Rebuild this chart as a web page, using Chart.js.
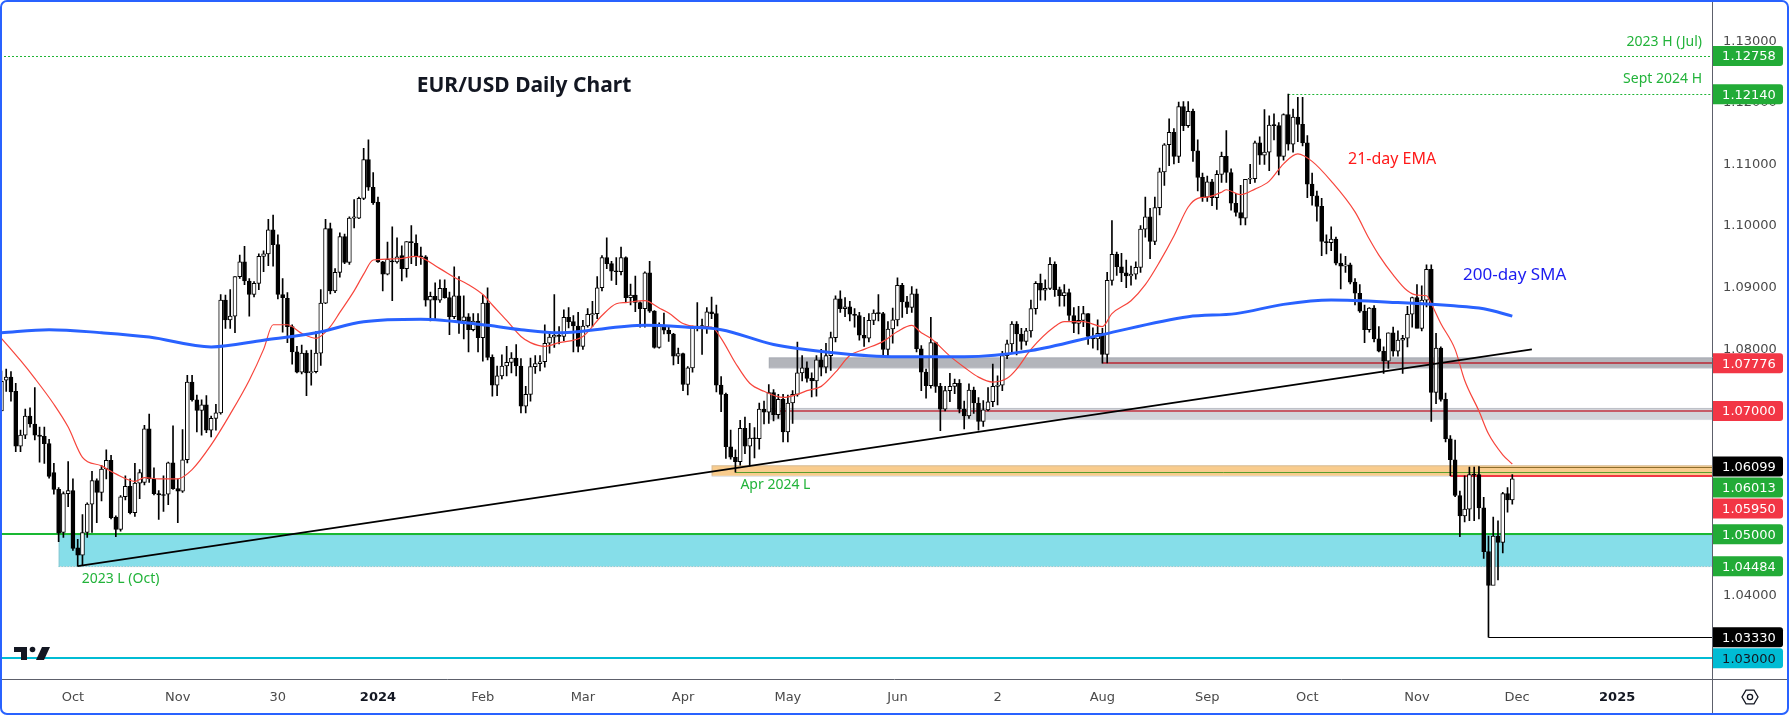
<!DOCTYPE html>
<html lang="en">
<head>
<meta charset="UTF-8">
<title>EUR/USD Daily Chart</title>
<script src="https://cdn.jsdelivr.net/npm/chart.js"></script>
<style>
  html, body { margin: 0; padding: 0; background: #fff; overflow: hidden; }
  canvas { display: block; }
</style>
</head>
<body>
<canvas id="myChart" width="1789" height="715"></canvas>
<script>
// daily EUR/USD candles, bar 0 = 11 Sep 2023 ... bar 317 = 29 Nov 2024 (25 Dec / 1 Jan not traded)
const opens = [
  1.0700,1.0750,1.0755,1.0732,1.0643,1.0661,1.0692,1.0679,1.0661,1.0659,
  1.0647,1.0600,1.0573,1.0503,1.0566,1.0571,1.0478,1.0466,1.0503,1.0549,
  1.0587,1.0568,1.0606,1.0620,1.0528,1.0508,1.0561,1.0578,1.0535,1.0583,
  1.0584,1.0671,1.0590,1.0566,1.0564,1.0565,1.0616,1.0574,1.0570,1.0621,
  1.0747,1.0718,1.0701,1.0710,1.0669,1.0688,1.0697,1.0880,1.0848,1.0854,
  1.0918,1.0942,1.0911,1.0889,1.0907,1.0951,1.0955,1.0994,1.0970,1.0889,
  1.0883,1.0837,1.0796,1.0763,1.0794,1.0762,1.0764,1.0794,1.0875,1.0996,
  1.0895,1.0925,1.0983,1.0941,1.1013,1.1013,1.1045,1.1108,1.1063,1.1039,
  1.0942,1.0922,1.0943,1.0942,1.0952,1.0931,1.0975,1.0972,1.0951,1.0950,
  1.0880,1.0886,1.0880,1.0899,1.0884,1.0853,1.0887,1.0846,1.0853,1.0832,
  1.0846,1.0819,1.0875,1.0787,1.0742,1.0757,1.0773,1.0779,1.0786,1.0773,
  1.0708,1.0727,1.0772,1.0777,1.0780,1.0810,1.0820,1.0823,1.0821,1.0852,
  1.0845,1.0838,1.0805,1.0838,1.0856,1.0858,1.0900,1.0949,1.0939,1.0927,
  1.0926,1.0949,1.0884,1.0888,1.0876,1.0866,1.0924,1.0862,1.0803,1.0839,
  1.0831,1.0825,1.0789,1.0793,1.0743,1.0770,1.0836,1.0838,1.0837,1.0861,
  1.0858,1.0742,1.0727,1.0642,1.0625,1.0618,1.0672,1.0643,1.0656,1.0655,
  1.0703,1.0698,1.0730,1.0694,1.0719,1.0666,1.0713,1.0727,1.0762,1.0770,
  1.0753,1.0749,1.0783,1.0771,1.0790,1.0819,1.0882,1.0866,1.0869,1.0857,
  1.0855,1.0823,1.0818,1.0847,1.0859,1.0858,1.0800,1.0833,1.0848,1.0904,
  1.0877,1.0868,1.0890,1.0801,1.0763,1.0741,1.0811,1.0740,1.0703,1.0733,
  1.0740,1.0745,1.0703,1.0692,1.0734,1.0713,1.0683,1.0702,1.0715,1.0740,
  1.0742,1.0790,1.0809,1.0841,1.0825,1.0813,1.0830,1.0866,1.0907,1.0896,
  1.0899,1.0938,1.0897,1.0887,1.0892,1.0855,1.0842,1.0847,1.0858,1.0821,
  1.0817,1.0826,1.0792,1.0912,1.0954,1.0934,1.0924,1.0919,1.0922,1.0933,
  1.0995,1.1015,1.0975,1.1030,1.1088,1.1132,1.1152,1.1113,1.1194,1.1163,
  1.1186,1.1122,1.1079,1.1047,1.1072,1.1046,1.1084,1.1113,1.1087,1.1037,
  1.1022,1.1013,1.1076,1.1077,1.1135,1.1115,1.1120,1.1164,1.1163,1.1113,
  1.1181,1.1133,1.1177,1.1165,1.1135,1.1068,1.1049,1.1032,1.0975,1.0973,
  1.0979,1.0940,1.0935,1.0937,1.0909,1.0891,1.0862,1.0832,1.0867,1.0817,
  1.0797,1.0781,1.0827,1.0797,1.0815,1.0818,1.0857,1.0884,1.0834,1.0880,
  1.0930,1.0730,1.0802,1.0719,1.0655,1.0621,1.0563,1.0530,1.0541,1.0597,
  1.0597,1.0543,1.0472,1.0417,1.0497,1.0487,1.0566,1.0556
];
const highs = [
  1.0765,1.0768,1.0764,1.0745,1.0669,1.0703,1.0705,1.0738,1.0674,1.0674,
  1.0654,1.0615,1.0576,1.0569,1.0618,1.0590,1.0492,1.0532,1.0551,1.0602,
  1.0590,1.0612,1.0637,1.0628,1.0530,1.0563,1.0595,1.0590,1.0615,1.0605,
  1.0677,1.0695,1.0608,1.0571,1.0595,1.0617,1.0676,1.0590,1.0670,1.0758,
  1.0758,1.0726,1.0718,1.0725,1.0692,1.0711,1.0889,1.0888,1.0897,1.0918,
  1.0953,1.0967,1.0915,1.0910,1.0955,1.0960,1.1011,1.1018,1.0986,1.0915,
  1.0892,1.0840,1.0805,1.0807,1.0798,1.0799,1.0829,1.0897,1.1011,1.1005,
  1.0931,1.0989,1.0987,1.1015,1.1043,1.1047,1.1126,1.1140,1.1087,1.1047,
  1.0943,1.0974,1.0999,1.0981,1.0968,1.0975,1.1001,1.0986,1.0966,1.0952,
  1.0893,1.0908,1.0913,1.0913,1.0893,1.0934,1.0918,1.0887,1.0858,1.0858,
  1.0858,1.0888,1.0900,1.0791,1.0773,1.0791,1.0805,1.0795,1.0808,1.0785,
  1.0740,1.0786,1.0790,1.0790,1.0840,1.0828,1.0889,1.0837,1.0864,1.0868,
  1.0855,1.0860,1.0847,1.0866,1.0878,1.0918,1.0952,1.0981,1.0943,1.0949,
  1.0966,1.0950,1.0906,1.0919,1.0877,1.0926,1.0943,1.0863,1.0843,1.0859,
  1.0838,1.0826,1.0802,1.0794,1.0772,1.0838,1.0876,1.0849,1.0868,1.0885,
  1.0872,1.0756,1.0729,1.0669,1.0637,1.0685,1.0690,1.0680,1.0673,1.0713,
  1.0716,1.0743,1.0735,1.0727,1.0727,1.0726,1.0733,1.0812,1.0790,1.0780,
  1.0762,1.0790,1.0800,1.0810,1.0828,1.0887,1.0895,1.0884,1.0878,1.0866,
  1.0860,1.0852,1.0858,1.0864,1.0889,1.0860,1.0845,1.0867,1.0916,1.0907,
  1.0886,1.0902,1.0898,1.0806,1.0768,1.0852,1.0812,1.0745,1.0740,1.0761,
  1.0752,1.0751,1.0716,1.0744,1.0739,1.0722,1.0717,1.0738,1.0776,1.0757,
  1.0797,1.0815,1.0845,1.0845,1.0834,1.0834,1.0880,1.0910,1.0922,1.0913,
  1.0949,1.0942,1.0901,1.0905,1.0898,1.0868,1.0870,1.0870,1.0858,1.0835,
  1.0848,1.0834,1.0925,1.1009,1.0958,1.0956,1.0945,1.0935,1.0942,1.1001,
  1.1047,1.1029,1.1047,1.1094,1.1134,1.1174,1.1158,1.1201,1.1202,1.1202,
  1.1190,1.1140,1.1086,1.1081,1.1076,1.1090,1.1120,1.1155,1.1093,1.1053,
  1.1066,1.1075,1.1100,1.1138,1.1145,1.1189,1.1179,1.1182,1.1168,1.1182,
  1.1214,1.1190,1.1209,1.1209,1.1147,1.1086,1.1057,1.1045,1.0986,1.0999,
  1.0982,1.0955,1.0951,1.0940,1.0915,1.0905,1.0872,1.0868,1.0871,1.0837,
  1.0804,1.0827,1.0836,1.0830,1.0823,1.0870,1.0885,1.0905,1.0903,1.0937,
  1.0937,1.0826,1.0804,1.0729,1.0660,1.0653,1.0570,1.0595,1.0609,1.0609,
  1.0610,1.0560,1.0497,1.0528,1.0522,1.0568,1.0576,1.0597
];
const lows = [
  1.0700,1.0732,1.0716,1.0634,1.0634,1.0655,1.0674,1.0653,1.0617,1.0615,
  1.0591,1.0565,1.0488,1.0495,1.0545,1.0474,1.04484,1.0450,1.0495,1.0503,
  1.0519,1.0554,1.0590,1.0525,1.0496,1.0505,1.0556,1.0533,1.0529,1.0558,
  1.0580,1.0584,1.0564,1.0524,1.0537,1.0548,1.0573,1.0519,1.0568,1.0616,
  1.0716,1.0666,1.0661,1.0665,1.0658,1.0669,1.0695,1.0834,1.0834,1.0827,
  1.0915,1.0905,1.0854,1.0885,1.0897,1.0926,1.0936,1.0935,1.0882,1.0828,
  1.0811,1.0776,1.0762,1.0760,1.0725,1.0742,1.0762,1.0774,1.0874,1.0890,
  1.0892,1.0917,1.0939,1.0938,1.0997,1.1012,1.1043,1.1058,1.1035,1.0941,
  1.0895,1.0921,1.0879,1.0940,1.0911,1.0917,1.0939,1.0936,1.0938,1.0870,
  1.0846,1.0847,1.0876,1.0883,1.0824,1.0850,1.0826,1.0817,1.0796,1.0830,
  1.0796,1.0781,1.0783,1.0724,1.0725,1.0752,1.0757,1.0762,1.0757,1.0697,
  1.0697,1.0716,1.0761,1.0765,1.0771,1.0794,1.0803,1.0809,1.0814,1.0835,
  1.0796,1.0796,1.0800,1.0836,1.0837,1.0850,1.0895,1.0931,1.0912,1.0905,
  1.0921,1.0876,1.0872,1.0861,1.0836,1.0836,1.0860,1.0802,1.0802,1.0825,
  1.0813,1.0775,1.0777,1.0733,1.0726,1.0763,1.0830,1.0792,1.0826,1.0850,
  1.0731,1.0699,1.0623,1.0622,1.0601,1.0612,1.0631,1.0611,1.0624,1.0638,
  1.0679,1.0680,1.0684,1.0688,1.0650,1.0650,1.0680,1.0724,1.0749,1.0747,
  1.0723,1.0724,1.0757,1.0762,1.0766,1.0812,1.0860,1.0853,1.0846,1.0836,
  1.0815,1.0805,1.0812,1.0840,1.0846,1.0789,1.0788,1.0810,1.0838,1.0852,
  1.0858,1.0860,1.0796,1.0733,1.0721,1.0737,1.0730,1.0668,1.0700,1.0715,
  1.0728,1.0697,1.0671,1.0688,1.0696,1.0669,1.0675,1.0700,1.0707,1.0710,
  1.0733,1.0785,1.0794,1.0791,1.0800,1.0807,1.0820,1.0857,1.0880,1.0880,
  1.0897,1.0886,1.0870,1.0870,1.0847,1.0827,1.0825,1.0837,1.0808,1.0802,
  1.0799,1.07776,1.0778,1.0904,1.0920,1.0910,1.0900,1.0904,1.0914,1.0925,
  1.0982,1.0947,1.0970,1.1018,1.1066,1.1098,1.1101,1.1103,1.1155,1.1160,
  1.1105,1.1057,1.1040,1.1040,1.1033,1.1027,1.1071,1.1071,1.1026,1.1016,
  1.1002,1.1002,1.1069,1.1071,1.1100,1.1100,1.1090,1.1140,1.1083,1.1107,
  1.1123,1.1120,1.1137,1.1130,1.1046,1.1034,1.1008,1.0952,1.0955,1.0960,
  1.0937,1.0898,1.0925,1.0906,1.0872,1.0860,1.0811,1.0828,1.0812,1.0796,
  1.0761,1.0769,1.0789,1.0789,1.0761,1.0804,1.0836,1.0835,1.0830,1.0869,
  1.0683,1.0712,1.0716,1.0650,1.0595,1.0561,1.0496,1.0520,1.0522,1.0522,
  1.0525,1.0461,1.0333,1.0423,1.0426,1.0470,1.0536,1.0549
];
const closes = [
  1.0748,1.0755,1.0731,1.0643,1.0661,1.0692,1.0679,1.0661,1.0659,1.0647,
  1.0594,1.0573,1.0502,1.0566,1.0571,1.0477,1.0466,1.0503,1.0549,1.0587,
  1.0568,1.0606,1.0620,1.0527,1.0508,1.0561,1.0578,1.0535,1.0583,1.0600,
  1.0671,1.0590,1.0566,1.0564,1.0563,1.0616,1.0574,1.0570,1.0621,1.0747,
  1.0718,1.0701,1.0710,1.0669,1.0688,1.0697,1.0880,1.0848,1.0854,1.0918,
  1.0942,1.0911,1.0889,1.0907,1.0951,1.0955,1.0994,1.0970,1.0889,1.0884,
  1.0837,1.0796,1.0763,1.0794,1.0762,1.0764,1.0794,1.0875,1.0996,1.0895,
  1.0925,1.0983,1.0941,1.1013,1.1015,1.1045,1.1108,1.1063,1.1038,1.0942,
  1.0922,1.0946,1.0942,1.0950,1.0931,1.0975,1.0973,1.0951,1.0950,1.0880,
  1.0886,1.0880,1.0899,1.0884,1.0853,1.0887,1.0846,1.0853,1.0832,1.0846,
  1.0819,1.0875,1.0787,1.0742,1.0757,1.0773,1.0779,1.0786,1.0773,1.0708,
  1.0727,1.0772,1.0777,1.0780,1.0810,1.0820,1.0823,1.0821,1.0852,1.0845,
  1.0838,1.0805,1.0838,1.0857,1.0858,1.0900,1.0949,1.0939,1.0927,1.0926,
  1.0949,1.0884,1.0888,1.0876,1.0866,1.0924,1.0862,1.0803,1.0839,1.0831,
  1.0825,1.0789,1.0793,1.0743,1.0770,1.0836,1.0838,1.0837,1.0861,1.0858,
  1.0742,1.0727,1.0642,1.0625,1.0618,1.0672,1.0643,1.0656,1.0655,1.0703,
  1.0698,1.0730,1.0694,1.0719,1.0666,1.0713,1.0727,1.0762,1.0770,1.0753,
  1.0749,1.0783,1.0771,1.0790,1.0819,1.0882,1.0866,1.0869,1.0857,1.0855,
  1.0823,1.0818,1.0847,1.0859,1.0858,1.0800,1.0833,1.0848,1.0904,1.0877,
  1.0868,1.0890,1.0801,1.0763,1.0741,1.0811,1.0740,1.0703,1.0733,1.0740,
  1.0745,1.0703,1.0692,1.0734,1.0713,1.0683,1.0702,1.0715,1.0740,1.0742,
  1.0790,1.0809,1.0841,1.0825,1.0813,1.0830,1.0866,1.0907,1.0896,1.0899,
  1.0938,1.0897,1.0887,1.0892,1.0855,1.0842,1.0847,1.0858,1.0821,1.0817,
  1.0826,1.0792,1.0912,1.0954,1.0934,1.0924,1.0919,1.0922,1.0933,1.0995,
  1.1015,1.0975,1.1030,1.1088,1.1132,1.1152,1.1113,1.1194,1.1163,1.1186,
  1.1122,1.1079,1.1047,1.1072,1.1046,1.1084,1.1113,1.1087,1.1037,1.1022,
  1.1013,1.1076,1.1077,1.1135,1.1115,1.1120,1.1164,1.1163,1.1113,1.1181,
  1.1133,1.1177,1.1165,1.1135,1.1068,1.1049,1.1032,1.0975,1.0973,1.0979,
  1.0940,1.0935,1.0937,1.0909,1.0891,1.0862,1.0832,1.0867,1.0817,1.0797,
  1.0781,1.0827,1.0797,1.0815,1.0818,1.0857,1.0884,1.0834,1.0880,1.0930,
  1.0730,1.0802,1.0719,1.0655,1.0621,1.0563,1.0530,1.0541,1.0597,1.0596,
  1.0543,1.0472,1.0417,1.0497,1.0487,1.0566,1.0556,1.0590
];

// 21-day EMA (bar index, price)
const emaIdx = [0,4,7,11,14,17,21,24,28,30,33,37,40,44,48,52,55,57,60,63,66,69,71,74,76,78,83,87,92,95,98,101,103,106,109,111,114,117,122,126,129,131,135,138,140,143,146,149,151,154,157,160,164,167,169,172,175,178,181,185,188,191,193,195,199,202,205,208,211,213,216,221,223,227,231,233,237,240,243,246,249,251,253,256,257,260,263,266,269,272,275,279,284,287,289,292,295,297,299,300,302,305,307,310,312,315,317];
const emaVal = [1.0818,1.0782,1.0753,1.0711,1.0674,1.0625,1.0611,1.0598,1.0586,1.0592,1.0590,1.0590,1.0605,1.0645,1.0695,1.0750,1.0800,1.0840,1.0840,1.0826,1.0818,1.0837,1.0860,1.0895,1.0922,1.0945,1.0947,1.0951,1.0931,1.0917,1.0905,1.0889,1.0872,1.0847,1.0821,1.0811,1.0805,1.0811,1.0821,1.0855,1.0874,1.0876,1.0879,1.0867,1.0859,1.0842,1.0837,1.0836,1.0818,1.0778,1.0745,1.0732,1.0722,1.0727,1.0733,1.0740,1.0763,1.0790,1.0800,1.0813,1.0829,1.0839,1.0827,1.0818,1.0789,1.0771,1.0755,1.0747,1.0753,1.0768,1.0800,1.0837,1.0845,1.0845,1.0837,1.0858,1.0879,1.0905,1.0942,1.0984,1.1031,1.1045,1.1047,1.1055,1.1059,1.1051,1.1060,1.1073,1.1101,1.1117,1.1105,1.1073,1.1023,1.0979,1.0953,1.0921,1.0895,1.0888,1.0887,1.0874,1.0842,1.0800,1.0750,1.0700,1.0663,1.0629,1.0614];

// 200-day SMA (bar index, price)
const smaIdx = [0,10,21,31,44,55,66,76,88,102,109,117,135,144,151,162,174,188,202,216,231,249,259,269,279,293,304,311,317];
const smaVal = [1.0827,1.0832,1.0827,1.0820,1.0804,1.0815,1.0827,1.0845,1.0849,1.0839,1.0832,1.0827,1.0839,1.0836,1.0832,1.0808,1.0795,1.0788,1.0788,1.0798,1.0824,1.0853,1.0858,1.0873,1.0880,1.0876,1.0871,1.0866,1.0854];

// trend line from the Oct 2023 low
const trendIdx = [16, 321.1];
const trendVal = [1.04484, 1.0800];

// price axis
const priceTicks = [1.03,1.04,1.05,1.06,1.07,1.08,1.09,1.10,1.11,1.12,1.13];
// time axis: bar index of each label
const tickIdx  = [15,37,58,79,101,122,143,165,188,209,231,253,274,297,318,339];
const tickText = ['Oct','Nov','30','2024','Feb','Mar','Apr','May','Jun','2','Aug','Sep','Oct','Nov','Dec','2025'];

// zones: low, high, first bar
const zoneLo   = [1.04484, 1.0770, 1.0687, 1.0595];
const zoneHi   = [1.05,    1.0787, 1.0705, 1.0612];
const zoneFrom = [12, 161, 161, 149];

// horizontal levels and the bar they start from (null = whole width)
const levelVal  = [1.12758, 1.12140, 1.05, 1.04484, 1.07776, 1.07, 1.0601, 1.0595, 1.0333, 1.03];
const levelFrom = [null, 270, null, 12, 231, 162, 154, 304, 312, null];

// price tags on the right axis
const tagVal = [1.12758, 1.12140, 1.07776, 1.07000, 1.06099, 1.06013, 1.05950, 1.05000, 1.04484, 1.03330, 1.03000];

const zoneFill  = ['#86dee9', '#b3b5bb', '#d2d4d9', '#f9cc8d'];
const levelStyle = [
  { c: '#1fb536', w: 1, dash: [2, 2] },
  { c: '#1fb536', w: 1, dash: [2, 2] },
  { c: '#19b832', w: 2, dash: [] },
  { c: '#5cc9d4', w: 1, dash: [1, 2] },
  { c: '#b84a55', w: 2, dash: [] },
  { c: '#c65b66', w: 2, dash: [] },
  { c: '#5a9e2e', w: 1, dash: [] },
  { c: '#f23645', w: 2, dash: [] },
  { c: '#000000', w: 1, dash: [] },
  { c: '#00bcd4', w: 2, dash: [] }
];
const tagStyle = [
  ['#22ab37', '#fff'], ['#22ab37', '#fff'], ['#f23645', '#fff'], ['#f23645', '#fff'],
  ['#000000', '#fff'], ['#22ab37', '#fff'], ['#f23645', '#fff'], ['#22ab37', '#fff'],
  ['#22ab37', '#fff'], ['#000000', '#fff'], ['#00bcd4', '#131722']
];

const overlay = {
  id: 'overlay',
  beforeDatasetsDraw(chart) {
    const { ctx, chartArea: a, scales: { x, y } } = chart;
    ctx.save();
    ctx.beginPath();
    ctx.rect(a.left, a.top, a.right - a.left, a.bottom - a.top);
    ctx.clip();
    zoneLo.forEach((lo, i) => {
      const x0 = x.getPixelForValue(zoneFrom[i]);
      const y0 = y.getPixelForValue(zoneHi[i]);
      const y1 = y.getPixelForValue(lo);
      ctx.fillStyle = zoneFill[i];
      ctx.fillRect(x0, y0, a.right - x0, y1 - y0);
      ctx.strokeStyle = 'rgba(150,155,165,0.35)';
      ctx.lineWidth = 1;
      ctx.strokeRect(x0 + 0.5, y0 + 0.5, a.right - x0, y1 - y0);
    });
    levelVal.forEach((v, i) => {
      const s = levelStyle[i];
      const x0 = levelFrom[i] === null ? a.left : x.getPixelForValue(levelFrom[i]);
      const yy = Math.round(y.getPixelForValue(v)) + (s.w === 1 ? 0.5 : 0);
      ctx.strokeStyle = s.c;
      ctx.lineWidth = s.w;
      ctx.setLineDash(s.dash);
      ctx.beginPath();
      ctx.moveTo(x0, yy);
      ctx.lineTo(a.right, yy);
      ctx.stroke();
    });
    ctx.setLineDash([]);
    // box drawn round the latest range
    const bx = x.getPixelForValue(310);
    const by0 = Math.round(y.getPixelForValue(1.06099)) + 0.5;
    const by1 = y.getPixelForValue(1.0595);
    ctx.strokeStyle = '#8c6d2c';
    ctx.lineWidth = 1;
    ctx.beginPath();
    ctx.moveTo(a.right, by0);
    ctx.lineTo(bx, by0);
    ctx.lineTo(bx, by1);
    ctx.stroke();
    ctx.restore();
  },
  afterDraw(chart) {
    const { ctx, chartArea: a, scales: { x, y } } = chart;
    const W = chart.width, H = chart.height;
    ctx.save();
    // chart texts
    ctx.textBaseline = 'middle';
    ctx.font = '14px "Noto Sans"';
    ctx.fillStyle = '#22b33a';
    ctx.textAlign = 'right';
    ctx.fillText('2023 H (Jul)', a.right - 10, y.getPixelForValue(1.12758) - 14);
    ctx.fillText('Sept 2024 H', a.right - 10, y.getPixelForValue(1.1214) - 15);
    ctx.textAlign = 'left';
    ctx.fillText('2023 L (Oct)', x.getPixelForValue(16) + 4, y.getPixelForValue(1.04484) + 13);
    ctx.fillText('Apr 2024 L', x.getPixelForValue(154) + 5, y.getPixelForValue(1.0601) + 13);
    ctx.font = '16px "Noto Sans"';
    ctx.fillStyle = '#ff1a1a';
    ctx.fillText('21-day EMA', 1348, 159);
    ctx.font = '17px "Noto Sans"';
    ctx.fillStyle = '#1c1cf0';
    ctx.fillText('200-day SMA', 1463, 275);
    ctx.font = 'bold 21px "Noto Sans"';
    ctx.fillStyle = '#131722';
    ctx.textAlign = 'center';
    ctx.fillText('EUR/USD Daily Chart', 524, 86);

    // separators
    ctx.strokeStyle = '#5d606b';
    ctx.lineWidth = 1;
    ctx.beginPath();
    ctx.moveTo(0, a.bottom + 0.5); ctx.lineTo(W, a.bottom + 0.5);
    ctx.moveTo(a.right + 0.5, 0); ctx.lineTo(a.right + 0.5, H);
    ctx.stroke();

    // price tags, pushed down when they overlap
    ctx.font = '13px "DejaVu Sans"';
    ctx.textAlign = 'center';
    let prev = -100;
    tagVal.forEach((v, i) => {
      let cy = y.getPixelForValue(v);
      if (cy < prev + 21) cy = prev + 21;
      prev = cy;
      ctx.fillStyle = tagStyle[i][0];
      ctx.beginPath();
      ctx.roundRect(a.right + 1, cy - 10, 70, 20, [0, 3, 3, 0]);
      ctx.fill();
      ctx.fillStyle = tagStyle[i][1];
      ctx.fillText(v.toFixed(5), a.right + 37, cy + 1);
    });

    // settings icon
    const gx = a.right + 38, gy = a.bottom + 18;
    ctx.strokeStyle = '#131722';
    ctx.lineWidth = 1.3;
    ctx.beginPath();
    for (let j = 0; j < 6; j++) {
      const ang = Math.PI / 3 * j;
      const px = gx + 8 * Math.cos(ang), py = gy + 8 * Math.sin(ang);
      j ? ctx.lineTo(px, py) : ctx.moveTo(px, py);
    }
    ctx.closePath();
    ctx.stroke();
    ctx.beginPath();
    ctx.arc(gx, gy, 2.6, 0, Math.PI * 2);
    ctx.stroke();

    // logo
    ctx.fillStyle = '#131722';
    ctx.fillRect(14, 647, 13, 5);
    ctx.fillRect(21, 647, 6, 13);
    ctx.beginPath();
    ctx.arc(32.5, 649.5, 2.8, 0, Math.PI * 2);
    ctx.fill();
    ctx.beginPath();
    ctx.moveTo(36, 660); ctx.lineTo(42, 647); ctx.lineTo(50, 647); ctx.lineTo(44, 660);
    ctx.closePath();
    ctx.fill();

    // frame
    ctx.strokeStyle = '#2962ff';
    ctx.lineWidth = 2;
    ctx.beginPath();
    ctx.roundRect(1, 1, W - 2, H - 2, 6);
    ctx.stroke();
    ctx.restore();
  }
};

const wickData = lows.map((l, i) => ({ x: i, y: [l, highs[i]] }));
const bodyData = opens.map((o, i) => ({ x: i, y: [o, closes[i]] }));
const emaData = emaIdx.map((k, i) => ({ x: k, y: emaVal[i] }));
const smaData = smaIdx.map((k, i) => ({ x: k, y: smaVal[i] }));
const trendData = trendIdx.map((k, i) => ({ x: k, y: trendVal[i] }));

const ctx = document.getElementById('myChart').getContext('2d');
const myChart = new Chart(ctx, {
  type: 'bar',
  data: {
    datasets: [
      { type: 'line', data: trendData, borderColor: '#000', borderWidth: 1.8, pointRadius: 0, order: 0 },
      { type: 'line', data: smaData, borderColor: '#2962ff', borderWidth: 3, pointRadius: 0,
        cubicInterpolationMode: 'monotone', order: 1 },
      { type: 'line', data: emaData, borderColor: '#f7453c', borderWidth: 1.2, pointRadius: 0,
        cubicInterpolationMode: 'monotone', order: 2 },
      { data: bodyData, grouped: false, barThickness: 4, minBarLength: 1,
        backgroundColor: c => closes[c.dataIndex] >= opens[c.dataIndex] ? '#ffffff' : '#000000',
        borderColor: '#000', borderWidth: 1, borderSkipped: false, order: 3 },
      { data: wickData, grouped: false, barThickness: 1, backgroundColor: '#000',
        borderWidth: 0, order: 4 }
    ]
  },
  options: {
    responsive: false,
    animation: false,
    devicePixelRatio: 1,
    layout: { padding: 0 },
    plugins: { legend: { display: false }, tooltip: { enabled: false } },
    scales: {
      x: {
        type: 'linear',
        min: -0.302,
        max: 358.9,
        offset: false,
        grid: { display: false, drawTicks: false },
        border: { display: false },
        afterBuildTicks: s => { s.ticks = tickIdx.map(v => ({ value: v })); },
        afterFit: s => { s.height = 36; },
        ticks: {
          autoSkip: false,
          maxRotation: 0,
          padding: 11,
          color: c => /^20/.test(tickText[c.index]) ? '#131722' : '#4a4a4a',
          font: c => ({ family: 'DejaVu Sans', size: 13,
                        weight: /^20/.test(tickText[c.index]) ? 'bold' : 'normal' }),
          callback: (v, i) => tickText[i]
        }
      },
      y: {
        position: 'right',
        min: 1.02653,
        max: 1.133628,
        grid: { display: false, drawTicks: false },
        border: { display: false },
        afterBuildTicks: s => { s.ticks = priceTicks.map(v => ({ value: v })); },
        afterFit: s => { s.width = 77; },
        ticks: {
          padding: 11,
          color: '#4a4a4a',
          font: { family: 'DejaVu Sans', size: 13 },
          callback: v => v.toFixed(5)
        }
      }
    }
  },
  plugins: [overlay]
});
</script>
</body>
</html>
